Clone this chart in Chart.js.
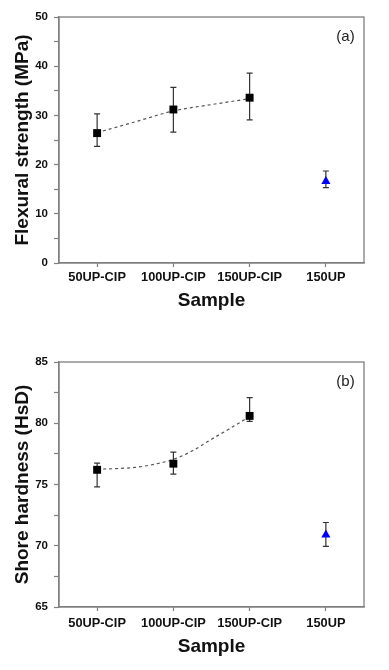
<!DOCTYPE html>
<html>
<head>
<meta charset="utf-8">
<script src="https://cdn.jsdelivr.net/npm/chart.js@4/dist/chart.umd.min.js"></script>
<style>
  html, body { margin:0; padding:0; background:#fff; }
  body { width:389px; height:670px; position:relative; overflow:hidden; }
  canvas { position:absolute; left:0; }
  #c1 { top:0; }
  #c2 { top:340px; }
</style>
</head>
<body>
<canvas id="c1" width="389" height="320"></canvas>
<canvas id="c2" width="389" height="330"></canvas>
<script>
// ---- data ----
const categories = ['50UP-CIP', '100UP-CIP', '150UP-CIP', '150UP'];
const flexMean = [26.4, 31.2, 33.6, 16.6];
const flexLow  = [23.7, 26.6, 29.1, 15.3];
const flexHigh = [30.3, 35.7, 38.6, 18.7];
const flexFitX = [1, 1.5, 2, 2.5, 3];
const flexFitY = [26.5, 28.7, 30.9, 32.2, 33.4];
const flexTicks = [0, 10, 20, 30, 40, 50];

const hardMean = [76.2, 76.7, 80.6, 70.9];
const hardLow  = [74.8, 75.85, 80.15, 69.95];
const hardHigh = [76.75, 77.65, 82.1, 71.9];
const hardFitX = [1, 1.25, 1.5, 1.75, 2, 2.25, 2.5, 2.75, 3];
const hardFitY = [76.25, 76.3, 76.4, 76.65, 77.05, 77.75, 78.7, 79.6, 80.55];
const hardTicks = [65, 70, 75, 80, 85];

const FONT = "'Liberation Sans', Arial, sans-serif";
const AXIS_GRAY = '#7f7f7f';

const framePlugin = {
  id: 'frame',
  beforeDatasetsDraw(chart) {
    const a = chart.chartArea, ctx = chart.ctx;
    ctx.save();
    ctx.strokeStyle = AXIS_GRAY;
    ctx.lineWidth = 1.3;
    ctx.strokeRect(a.left, a.top, a.right - a.left, a.bottom - a.top);
    ctx.restore();
  }
};

const errPlugin = {
  id: 'errbars',
  beforeDatasetsDraw(chart, args, opts) {
    const xs = chart.scales.x, ys = chart.scales.y, ctx = chart.ctx;
    ctx.save();
    ctx.strokeStyle = '#333';
    ctx.lineWidth = 1.2;
    opts.low.forEach((lo, i) => {
      const x = xs.getPixelForValue(i + 1);
      const y1 = ys.getPixelForValue(lo), y2 = ys.getPixelForValue(opts.high[i]);
      ctx.beginPath();
      ctx.moveTo(x, y1); ctx.lineTo(x, y2);
      ctx.moveTo(x - 3, y1); ctx.lineTo(x + 3, y1);
      ctx.moveTo(x - 3, y2); ctx.lineTo(x + 3, y2);
      ctx.stroke();
    });
    ctx.restore();
  },
  afterDraw(chart, args, opts) {
    const a = chart.chartArea, ctx = chart.ctx;
    ctx.save();
    ctx.fillStyle = '#222';
    ctx.font = '15px ' + FONT;
    ctx.textAlign = 'center';
    ctx.textBaseline = 'middle';
    ctx.fillText(opts.label, a.right - 18.5, a.top + 19.5);
    ctx.restore();
  }
};

function makeChart(id, cfg) {
  const nCIP = 3;
  const cipPts = cfg.mean.slice(0, nCIP).map((v, i) => ({x: i + 1, y: v}));
  const upPts = [{x: 4, y: cfg.mean[3]}];
  const fitPts = cfg.fitX.map((x, i) => ({x: x, y: cfg.fitY[i]}));
  return new Chart(document.getElementById(id), {
    type: 'scatter',
    data: {
      datasets: [
        { data: cipPts, pointStyle: 'rect', pointRadius: 5.6, backgroundColor: '#000', borderColor: '#000', borderWidth: 0, showLine: false },
        { data: upPts, pointStyle: 'triangle', pointRadius: 5.3, backgroundColor: '#0000ff', borderColor: '#0000ff', borderWidth: 0, showLine: false },
        { data: fitPts, showLine: true, pointRadius: 0, borderColor: '#555', borderWidth: 1.2, borderDash: [3, 3], cubicInterpolationMode: 'monotone', fill: false }
      ]
    },
    options: {
      responsive: false,
      animation: false,
      devicePixelRatio: 1,
      layout: { padding: { top: cfg.padTop, right: 25, left: 0, bottom: 0 } },
      plugins: {
        legend: { display: false },
        tooltip: { enabled: false },
        errbars: { low: cfg.low, high: cfg.high, label: cfg.label }
      },
      scales: {
        x: {
          type: 'linear', min: 0.5, max: 4.5,
          afterBuildTicks: s => { s.ticks = categories.map((c, i) => ({value: i + 1})); },
          afterFit: s => { s.height = cfg.xHeight; },
          ticks: {
            autoSkip: false, maxRotation: 0, padding: cfg.xTickPad, color: '#111',
            font: { family: FONT, size: 12.8, weight: 'bold' },
            callback: v => categories[Math.round(v) - 1]
          },
          grid: { drawOnChartArea: false, tickLength: 4, color: AXIS_GRAY, tickWidth: 1.2 },
          border: { color: AXIS_GRAY, width: 1.3 },
          title: { display: true, text: 'Sample', color: '#111', font: { family: FONT, size: 19, weight: 'bold' }, padding: { top: 0, bottom: cfg.titlePadBottom } }
        },
        y: {
          min: cfg.ymin, max: cfg.ymax,
          afterBuildTicks: s => {
            const t = [];
            for (let k = 0; k < cfg.yTicks.length; k++) {
              t.push({value: cfg.yTicks[k]});
              if (k < cfg.yTicks.length - 1) t.push({value: (cfg.yTicks[k] + cfg.yTicks[k + 1]) / 2});
            }
            s.ticks = t;
          },
          afterFit: s => { s.width = 59; },
          ticks: {
            padding: 6, color: '#111',
            font: { family: FONT, size: 11.5, weight: 'bold' },
            callback: v => cfg.yTicks.includes(v) ? String(v) : ''
          },
          grid: { drawOnChartArea: false, tickLength: 5, color: AXIS_GRAY, tickWidth: 1.2 },
          border: { color: AXIS_GRAY, width: 1.3 },
          title: { display: true, text: cfg.ytitle, color: '#111', font: { family: FONT, size: 19, weight: 'bold' }, padding: { top: 11.5, bottom: 0 } }
        }
      }
    },
    plugins: [framePlugin, errPlugin]
  });
}

makeChart('c1', {
  mean: flexMean, low: flexLow, high: flexHigh, fitX: flexFitX, fitY: flexFitY,
  ymin: 0, ymax: 50, yTicks: flexTicks, ytitle: 'Flexural strength (MPa)', label: '(a)',
  padTop: 17, xHeight: 57, xTickPad: 2.5, titlePadBottom: 8
});
makeChart('c2', {
  mean: hardMean, low: hardLow, high: hardHigh, fitX: hardFitX, fitY: hardFitY,
  ymin: 65, ymax: 85, yTicks: hardTicks, ytitle: 'Shore hardness (HsD)', label: '(b)',
  padTop: 22, xHeight: 63, xTickPad: 4.5, titlePadBottom: 12
});
</script>
</body>
</html>
